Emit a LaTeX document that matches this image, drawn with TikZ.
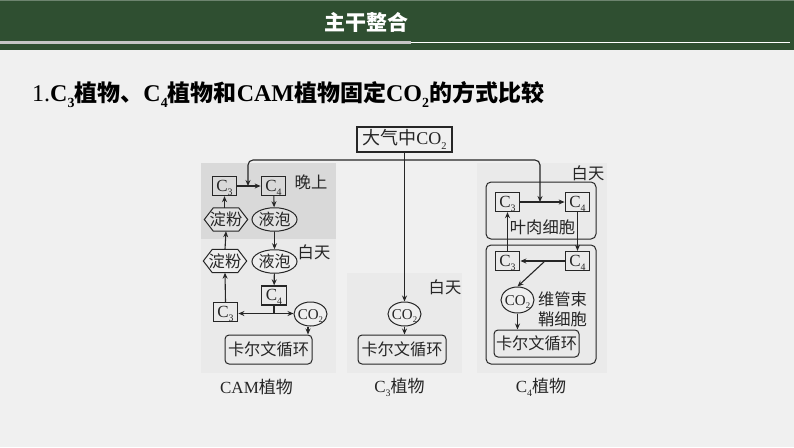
\documentclass[tikz,border=0pt]{standalone}
\usepackage{fontspec}
\setmainfont{Liberation Serif}
\newfontfamily\cjk{Noto Sans CJK SC}
\usetikzlibrary{arrows.meta,shapes.geometric}
\definecolor{barG}{HTML}{2F4F31}
\definecolor{pageG}{HTML}{F0F0F0}
\definecolor{panelD}{HTML}{D9D9D9}
\definecolor{panelL}{HTML}{EAEAEA}
\definecolor{inkK}{HTML}{262626}
\newcommand\subn[1]{\raisebox{-0.24em}{\fontsize{0.58em}{0.7em}\selectfont #1}}
\newcommand\Cthree{C\subn{3}}
\newcommand\Cfour{C\subn{4}}
\newcommand\COtwo{CO\subn{2}}
\newcommand\zw[1]{\makebox[0pt]{#1}}
\newcommand\hexshape[1]{\draw[ink,fill=white,fill opacity=.25] (#1.west) -- ([xshift=9pt]#1.north west) -- ([xshift=-9pt]#1.north east) -- (#1.east) -- ([xshift=-9pt]#1.south east) -- ([xshift=9pt]#1.south west) -- cycle;}
\tikzset{
  ink/.style={draw=inkK,line width=1pt},
  arr/.style={draw=inkK,line width=1.1pt,-{Stealth[length=6pt,width=5pt]}},
  lnk/.style={draw=inkK,line width=1.1pt},
  lab/.style={inner sep=0,text=inkK,font=\fontsize{16.3}{18}\selectfont},
  latin/.style={text height=10.5pt,text depth=0pt},
  cbox/.style={ink,line width=1.3pt,rectangle,latin,minimum width=24.5pt,minimum height=19pt,inner sep=0,text=inkK,font=\fontsize{17}{18}\selectfont},
  hexa/.style={rectangle,inner sep=0,minimum width=43pt,minimum height=23pt},
  oval/.style={ink,fill=white,fill opacity=.25,text opacity=1,ellipse,inner sep=0,text=inkK,font=\fontsize{16}{18}\selectfont},
  gasoval/.style={oval,latin,font=\fontsize{15}{18}\selectfont},
  cycle box/.style={ink,rounded corners=4pt,inner sep=0,text=inkK,font=\fontsize{16.2}{18}\selectfont\cjk},
  cellbox/.style={draw=inkK,line width=1pt,rounded corners=5pt},
}
\begin{document}
\begin{tikzpicture}[x=1pt,y=-1pt]
\useasboundingbox (0,0) rectangle (794,447);
\fill[pageG] (0,0) rectangle (794,447);
% header
\fill[barG] (0,0) rectangle (794,49.5);
\fill[barG!70!white] (0,0) rectangle (794,1);
\fill[white] (0,41.7) rectangle (790,43);
\fill[black!18!pageG] (0,41) rectangle (411,44);
\node (head) at (366,22) [inner sep=0,text=white,font=\fontsize{21}{23}\selectfont\cjk\bfseries] {主干整合};
\node (title) at (32,94.5) [anchor=west,inner sep=0,text=black,font=\fontsize{24}{26}\selectfont\bfseries] {{\mdseries 1.}\Cthree{\fontsize{23}{26}\selectfont\cjk 植物、}\Cfour{\fontsize{23}{26}\selectfont\cjk 植物和}CAM{\fontsize{23}{26}\selectfont\cjk 植物固定}\COtwo{\fontsize{23}{26}\selectfont\cjk 的方式比较}};
% panels
\fill[panelL] (201,239) rectangle (336,373);
\fill[panelD] (201,163) rectangle (336,239);
\fill[panelL] (347,273) rectangle (462,373);
\fill[panelL] (477,163) rectangle (607,373);
\draw[cellbox] (486,182) rectangle (596,239);
\draw[cellbox] (486,245) rectangle (596,364);
% top
\node (air) at (404.5,139.5) [ink,line width=1.3pt,minimum width=95pt,minimum height=25pt,inner sep=0,text=inkK,font=\fontsize{18}{19}\selectfont] {{\cjk 大气中}\COtwo};
% CAM
\node (a1) at (224.5,186) [cbox] {\Cthree};
\node (a2) at (273.5,186) [cbox] {\Cfour};
\node (h1) at (226,219.5) [hexa] {};
\node (h2) at (225,261) [hexa] {};
\hexshape{h1}
\hexshape{h2}
\node (o1) at (274.5,219.5) [oval,minimum width=45pt,minimum height=23.5pt] {\zw{\cjk 液泡}};
\node (o2) at (274.5,261.5) [oval,minimum width=45pt,minimum height=23.5pt] {\zw{\cjk 液泡}};
\node (a3) at (274,295.5) [cbox] {\Cfour};
\node (a4) at (225.5,312) [cbox] {\Cthree};
\node (a5) at (310.5,314) [gasoval,minimum width=33pt,minimum height=24pt] {\zw{\COtwo}};
\node (a6) at (268.5,349.5) [cycle box,minimum width=87pt,minimum height=29pt] {卡尔文循环};
\node (lb1) at (311,182) [lab] {{\cjk 晚上}};
\node (lb2) at (314,252) [lab] {{\cjk 白天}};
\node (lb3) at (256.5,387) [lab,font=\fontsize{17}{18}\selectfont] {CAM{\cjk 植物}};
% C3 plant
\node (b1) at (404.5,314) [gasoval,minimum width=33pt,minimum height=24pt] {\zw{\COtwo}};
\node (b2) at (402,349.5) [cycle box,minimum width=88pt,minimum height=29pt] {卡尔文循环};
\node (lb4) at (445,287) [lab] {{\cjk 白天}};
\node (lb5) at (399.5,387) [lab,font=\fontsize{17}{18}\selectfont] {\Cthree{\cjk 植物}};
% C4 plant
\node (c1) at (507.5,202) [cbox] {\Cthree};
\node (c2) at (577.5,202) [cbox] {\Cfour};
\node (c3) at (507.5,261) [cbox] {\Cthree};
\node (c4) at (577.5,261) [cbox] {\Cfour};
\node (c5) at (517.5,300) [gasoval,minimum width=33pt,minimum height=26pt] {\zw{\COtwo}};
\node (c6) at (536.5,343.5) [cycle box,minimum width=85pt,minimum height=27pt] {卡尔文循环};
\node (lb6) at (588,173) [lab] {{\cjk 白天}};
\node (lb7) at (542.5,227) [lab] {{\cjk 叶肉细胞}};
\node (lb8) at (562.5,299) [lab] {{\cjk 维管束}};
\node (lb9) at (562.5,319) [lab] {{\cjk 鞘细胞}};
\node (lb10) at (541,387) [lab,font=\fontsize{17}{18}\selectfont] {\Cfour{\cjk 植物}};
% hexagon labels
\node (ht1) at (h1) [lab] {{\cjk 淀粉}};
\node (ht2) at (h2) [lab] {{\cjk 淀粉}};
% junctions
\coordinate (jT) at (404.5,160);
\coordinate (jL) at (248,186);
\coordinate (jR) at (540,202);
\coordinate (jA) at (274,313.5);
\coordinate (jC) at (545,261);
% top connectors
\draw[arr] (air.south) -- (b1.north);
\draw[arr,rounded corners=5pt] (jT) -| (jL);
\draw[arr,rounded corners=5pt] (jT) -| (jR);
% CAM connectors
\draw[arr] (a1) -- (a2);
\draw[arr] (h1.north -| a1) -- (a1.south);
\draw[arr] (h2.north) -- (h1.south);
\draw[arr] (a2) -- (o1);
\draw[arr] (o1) -- (o2);
\draw[arr] (o2) -- (a3);
\draw[arr] (a4.north) -- (h2.south);
\draw[lnk] (a3.south) -- (jA);
\draw[arr] (jA) -- (a4.east |- jA);
\draw[arr] (jA) -- (a5.west |- jA);
\draw[arr] (a5.south -| 308,0) -- (a6.north -| 308,0);
% C3 connectors
\draw[arr] (b1.south) -- (b1.south |- b2.north);
% C4 connectors
\draw[arr] (c1) -- (c2);
\draw[arr] (c3) -- (c1);
\draw[arr] (c2) -- (c4);
\draw[arr] (c4) -- (c3);
\draw[arr] (jC) -- (c5.north);
\draw[arr] (c5.south) -- (c5.south |- c6.north);
\end{tikzpicture}
\end{document}
